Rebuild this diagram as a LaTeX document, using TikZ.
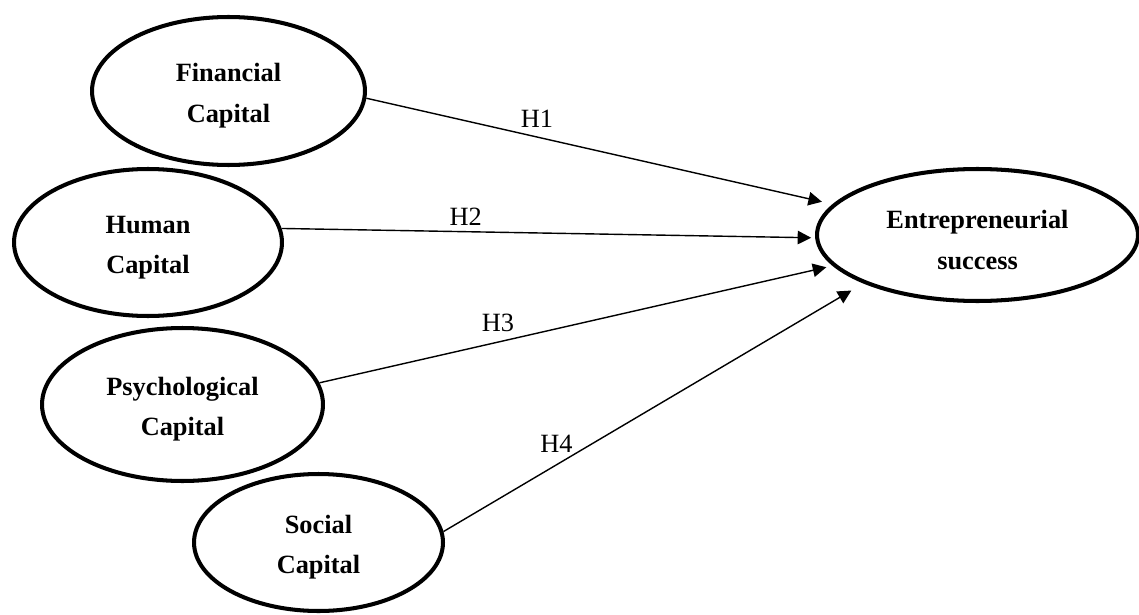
\documentclass[tikz,border=0pt]{standalone}
\usepackage{fontspec}
\setmainfont{Liberation Serif}
\usetikzlibrary{shapes.geometric,arrows.meta}

\tikzset{
  capital/.style={ellipse, draw, line width=2.3pt, inner sep=0pt, align=center,
    font=\fontsize{15}{23.3}\selectfont\bfseries, text height=39pt},
  hyp/.style={line width=0.8pt, -{Triangle[length=0.27cm,width=0.27cm]}},
  hlabel/.style={font=\fontsize{15}{18}\selectfont}
}

\begin{document}
\begin{tikzpicture}[x=0.02cm,y=-0.02cm]
    \useasboundingbox (0,0) rectangle (1139,615);
    % constructs
    \node[capital, minimum width=5.46cm, minimum height=2.96cm] (fin) at (228.5,91) {Financial\\Capital};
    \node[capital, minimum width=5.36cm, minimum height=2.94cm] (hum) at (148,242.5) {Human\\Capital};
    \node[capital, minimum width=5.62cm, minimum height=3.06cm] (psy) at (182.5,404.5) {Psychological\\Capital};
    \node[capital, minimum width=4.98cm, minimum height=2.74cm] (soc) at (318.5,542.5) {Social\\Capital};
    \node[capital, minimum width=6.42cm, minimum height=2.64cm] (ent) at (977.5,235) {Entrepreneurial\\success};
    % hypotheses
    \draw[hyp, shorten >=0.22cm] (fin.-3) -- node[hlabel, pos=0.366, above=1.5pt] (h1) {H1} (ent.168);
    \draw[hyp, shorten >=0.08cm] (hum.6) -- node[hlabel, pos=0.345, above] (h2) {H2} (ent.181);
    \draw[hyp, shorten >=0.13cm] (psy.9) -- node[hlabel, pos=0.348, above=2pt] (h3) {H3} (ent.192.6);
    \draw[hyp, shorten >=0.28cm] (soc.5) -- node[hlabel, pos=0.269, above=3pt] (h4) {H4} (ent.203);
\end{tikzpicture}
\end{document}
